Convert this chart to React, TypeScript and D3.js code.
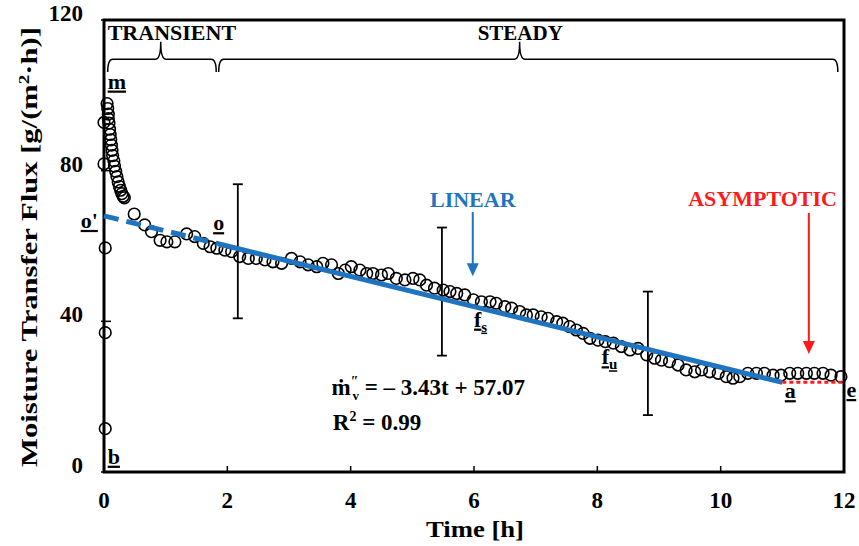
import React from "react";
import * as d3 from "d3";

// observed moisture transfer flux, g/(m2 h)
const startTime = [0.02, 0.02, 0.02, 0.0, 0.0];
const startFlux = [11.5, 37, 59.5, 92.8, 81.8];

const transientTime = [0.05, 0.06, 0.07, 0.07, 0.08, 0.09, 0.1, 0.11, 0.12, 0.13, 0.14, 0.16, 0.17, 0.19, 0.21, 0.23, 0.25, 0.27, 0.29, 0.31, 0.33];
const transientFlux = [97.8, 96.5, 95.0, 93.8, 92.6, 91.0, 89.6, 88.2, 86.8, 85.4, 84.0, 82.6, 81.2, 79.8, 78.4, 77.0, 75.8, 74.8, 73.9, 73.2, 72.8];

const steadyTime = [
  0.49, 0.66, 0.77, 0.91, 1.02, 1.15, 1.34, 1.47, 1.61, 1.72, 1.83, 1.96, 2.07, 2.2, 2.34, 2.47, 2.61, 2.74, 2.88,
  3.04, 3.18, 3.31, 3.45, 3.55, 3.69, 3.8, 3.91, 4.01, 4.15, 4.26, 4.36, 4.5, 4.61, 4.74, 4.88, 5.01, 5.12, 5.23,
  5.36, 5.5, 5.61, 5.72, 5.85, 5.99, 6.12, 6.26, 6.36, 6.5, 6.61, 6.74, 6.85, 6.96, 7.09, 7.2, 7.34, 7.44, 7.55,
  7.66, 7.77, 7.88, 8.01, 8.13, 8.26, 8.39, 8.53, 8.66, 8.8, 8.93, 9.04, 9.17, 9.31, 9.44, 9.58, 9.69, 9.82, 9.96,
  10.09, 10.2, 10.31, 10.44, 10.58, 10.71, 10.85, 10.98, 11.12, 11.25, 11.39, 11.52, 11.66, 11.79, 11.95,
];
const steadyFlux = [
  68.5, 65.6, 63.8, 61.5, 61.1, 61.1, 63.2, 62.5, 60.7, 59.8, 59.4, 58.9, 58.5, 57.2, 56.7, 56.7, 56.3, 55.8, 55.4,
  56.7, 55.8, 55.0, 54.5, 55.4, 55.0, 52.7, 53.6, 54.5, 53.6, 52.7, 52.7, 52.3, 52.7, 51.4, 51.0, 51.4, 51.0, 49.6,
  48.8, 48.3, 47.9, 47.4, 47.0, 45.7, 45.2, 45.2, 44.8, 43.9, 43.5, 42.6, 41.7, 41.7, 41.2, 40.8, 39.9, 39.5, 38.6,
  37.7, 36.8, 35.5, 35.0, 34.6, 34.2, 33.3, 32.4, 32.8, 31.1, 30.2, 29.7, 29.3, 28.4, 27.1, 26.6, 27.1, 26.6, 26.2,
  25.3, 24.9, 25.3, 26.2, 26.2, 26.2, 25.7, 25.7, 26.2, 26.2, 26.2, 26.2, 26.2, 25.7, 25.3,
];

// error bars: time, centre, half range
const errTime = [2.17, 5.48, 8.82];
const errMid = [58.6, 47.9, 31.5];
const errHalf = [17.8, 17.0, 16.4];

// linear fit (dashed part extrapolated back to o')
const fitTime = [0, 1.85, 11.0];
const fitFlux = [68.0, 60.6, 23.8];
// asymptotic level
const asymTime = [11.0, 12.0];
const asymFlux = [23.8, 23.8];

const xTicks = [0, 2, 4, 6, 8, 10, 12];
const yTicks = [0, 40, 80, 120];

// braces: start, peak, end (hours)
const transientBrace = [0.06, 0.92, 1.82];
const steadyBrace = [1.86, 6.74, 11.9];

const W = 859;
const H = 546;
const serif = "'Liberation Serif', 'Times New Roman', serif";
const BLUE = "#1f74bf";
const RED = "#ff1a1a";

export default function App() {
  const x = d3.scaleLinear().domain([0, 12]).range([104, 844]);
  const y = d3.scaleLinear().domain([0, 120]).range([472, 20]);

  const pts: [number, number][] = [];
  startTime.forEach((t, i) => pts.push([t, startFlux[i]]));
  transientTime.forEach((t, i) => pts.push([t, transientFlux[i]]));
  steadyTime.forEach((t, i) => pts.push([t, steadyFlux[i]]));

  const seg = (t0: number, v0: number, t1: number, v1: number) =>
    `M${x(t0)},${y(v0)}L${x(t1)},${y(v1)}`;

  function brace(b: number[]) {
    const [a, m, e] = b.map((d) => x(d));
    const yt = y(106.2);
    const yh = y(109.6);
    const yp = y(114.2);
    const r = 5;
    return `M${a},${yt}Q${a},${yh} ${a + r},${yh}L${m - r},${yh}Q${m},${yh} ${m},${yp}Q${m},${yh} ${m + r},${yh}L${e - r},${yh}Q${e},${yh} ${e},${yt}`;
  }

  function arrow(t: number, v0: number, v1: number, color: string) {
    const xx = x(t);
    const y0 = y(v0);
    const y1 = y(v1);
    return (
      <g>
        <line x1={xx} x2={xx} y1={y0} y2={y1 - 11} stroke={color} strokeWidth={2} />
        <path d={`M${xx - 6},${y1 - 13}L${xx + 6},${y1 - 13}L${xx},${y1}Z`} fill={color} />
      </g>
    );
  }

  const txt = { fontFamily: serif, fontWeight: "bold" as const, fontSize: 22, fill: "#000" };
  const ul = { textDecoration: "underline" };

  return (
    <svg width={W} height={H} style={{ position: "absolute", left: 0, top: 0, background: "#fff" }}>
      {/* frame */}
      <rect x={x(0)} y={y(120)} width={x(12) - x(0)} height={y(0) - y(120)} fill="none" stroke="#000" strokeWidth={3} />
      {xTicks.map((t) => (
        <g key={"xt" + t}>
          <line x1={x(t)} x2={x(t)} y1={y(0)} y2={y(0) - 6} stroke="#000" strokeWidth={1.5} />
          <text x={x(t)} y={508} textAnchor="middle" style={{ ...txt, fontSize: 23 }}>{t}</text>
        </g>
      ))}
      {yTicks.map((v) => (
        <g key={"yt" + v}>
          <line x1={x(0) - 3} x2={x(0) + 7} y1={y(v)} y2={y(v)} stroke="#000" strokeWidth={1.5} />
          <text x={83} y={y(v) + 1} textAnchor="end" style={{ ...txt, fontSize: 23 }}>{v}</text>
        </g>
      ))}
      <text x={475} y={537} textAnchor="middle" style={{ ...txt, fontSize: 24 }} textLength={98} lengthAdjust="spacingAndGlyphs">Time [h]</text>
      <text
        transform={`translate(37,${247}) rotate(-90)`}
        textAnchor="middle"
        style={{ ...txt, fontSize: 24 }}
        textLength={440}
        lengthAdjust="spacingAndGlyphs"
      >
        Moisture Transfer Flux [g/(m<tspan dy={-8} fontSize={15}>2</tspan><tspan dy={8}>·h)]</tspan>
      </text>

      {/* braces */}
      <path d={brace(transientBrace)} fill="none" stroke="#000" strokeWidth={1.5} />
      <path d={brace(steadyBrace)} fill="none" stroke="#000" strokeWidth={1.5} />
      <text x={x(0.06)} y={40} style={{ ...txt, fontSize: 22 }}>TRANSIENT</text>
      <text x={x(6.75)} y={40} textAnchor="middle" style={{ ...txt, fontSize: 21 }}>STEADY</text>

      {/* error bars */}
      {errTime.map((t, i) => (
        <g key={"eb" + i} stroke="#000" strokeWidth={1.8}>
          <line x1={x(t)} x2={x(t)} y1={y(errMid[i] - errHalf[i])} y2={y(errMid[i] + errHalf[i])} />
          <line x1={x(t) - 5} x2={x(t) + 5} y1={y(errMid[i] - errHalf[i])} y2={y(errMid[i] - errHalf[i])} />
          <line x1={x(t) - 5} x2={x(t) + 5} y1={y(errMid[i] + errHalf[i])} y2={y(errMid[i] + errHalf[i])} />
        </g>
      ))}

      {/* observations */}
      {pts.map(([t, v], i) => (
        <circle key={"p" + i} cx={x(t)} cy={y(v)} r={5.8} fill="none" stroke="#000" strokeWidth={1.6} />
      ))}

      {/* fits */}
      <path d={seg(fitTime[0], fitFlux[0], fitTime[1], fitFlux[1])} stroke={BLUE} strokeWidth={5} strokeDasharray="15 8" fill="none" />
      <path d={seg(fitTime[1], fitFlux[1], fitTime[2], fitFlux[2])} stroke={BLUE} strokeWidth={5} fill="none" />
      <path d={seg(asymTime[0], asymFlux[0], asymTime[1], asymFlux[1])} stroke={RED} strokeWidth={3} strokeDasharray="4 3" fill="none" />

      {/* annotations */}
      <text x={x(5.98)} y={207} textAnchor="middle" style={{ ...txt, fontSize: 22, fill: BLUE }}>LINEAR</text>
      {arrow(5.98, 69, 52, BLUE)}
      <text x={x(10.68)} y={206} textAnchor="middle" style={{ ...txt, fontSize: 22, fill: RED }}>ASYMPTOTIC</text>
      {arrow(11.43, 68.8, 31.3, RED)}

      <text x={x(0.06)} y={y(101.8)} style={{ ...txt, ...ul }}>m</text>
      <text x={x(-0.1)} y={y(64.8)} textAnchor="end" style={{ ...txt, ...ul }}>o'</text>
      <text x={x(0.06)} y={y(2.2)} style={{ ...txt, ...ul }}>b</text>
      <text x={x(1.77)} y={y(64.2)} style={{ ...txt, ...ul }}>o</text>
      <text x={x(6.0)} y={y(38.6)} style={{ ...txt, ...ul }}>
        f<tspan dy={5} fontSize={15}>s</tspan>
      </text>
      <text x={x(8.07)} y={y(28.6)} style={{ ...txt, ...ul }}>
        f<tspan dy={5} fontSize={15}>u</tspan>
      </text>
      <text x={x(11.04)} y={y(19.6)} style={{ ...txt, ...ul }}>a</text>
      <text x={x(12.04)} y={y(19.9)} style={{ ...txt, ...ul }}>e</text>

      <text x={x(3.69)} y={y(20.4)} style={{ ...txt, fontSize: 23 }}>
        ṁ<tspan dy={-9} fontSize={14}>″</tspan>
        <tspan dx={-6} dy={14} fontSize={13}>v</tspan>
        <tspan dy={-5}> = – 3.43t + 57.07</tspan>
      </text>
      <text x={x(3.71)} y={y(11.1)} style={{ ...txt, fontSize: 23 }}>
        R<tspan dy={-9} fontSize={14}>2</tspan>
        <tspan dy={9}> = 0.99</tspan>
      </text>
    </svg>
  );
}
